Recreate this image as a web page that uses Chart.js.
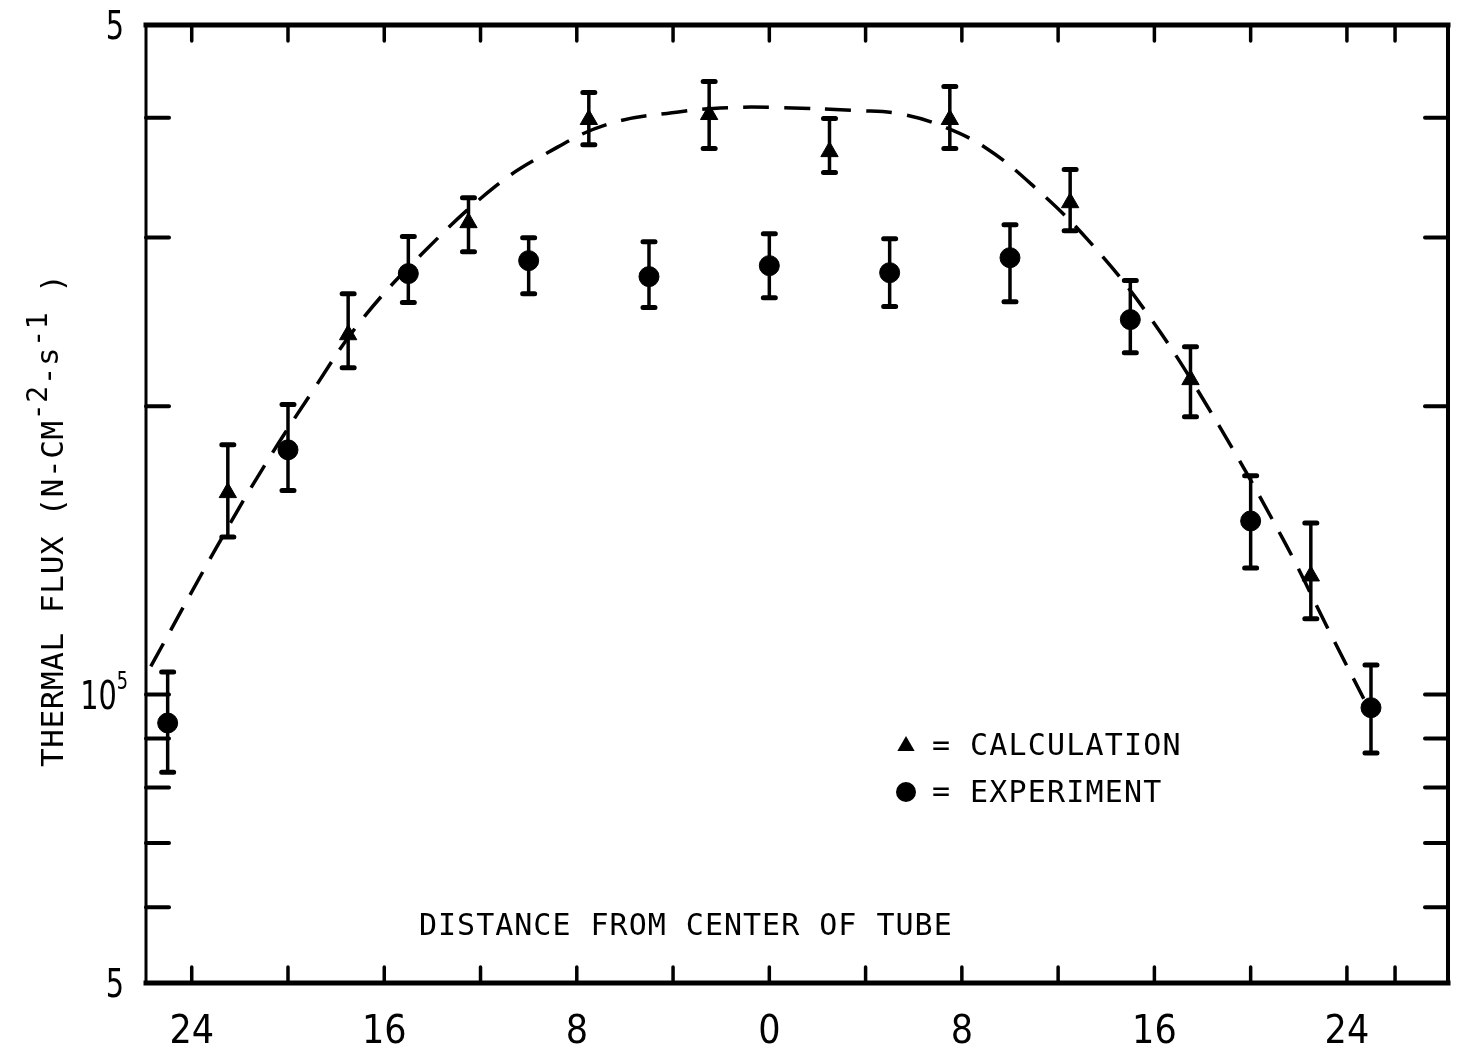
<!DOCTYPE html>
<html><head><meta charset="utf-8">
<script src="https://cdn.jsdelivr.net/npm/chart.js@4.4.1/dist/chart.umd.min.js"></script>
<style>html,body{margin:0;padding:0;background:#fff;}canvas{display:block;}</style>
</head><body>
<canvas id="c" width="1459" height="1056"></canvas>
<script>
// ---- data ----
const calcX  = [-22.5, -17.5, -12.5, -7.5, -2.5, 2.5, 7.5, 12.5, 17.5, 22.5];
const calcY  = [162500, 237500, 310900, 398400, 403200, 368800, 398400, 326200, 213200, 133000];
const calcHi = [182300, 262100, 330100, 425100, 436500, 399300, 431300, 353200, 230800, 151100];
const calcLo = [146100, 219400, 290000, 375000, 371500, 350700, 371500, 305000, 195000, 120000];

const exptX  = [-25, -20, -15, -10, -5, 0, 5, 10, 15, 20, 25];
const exptY  = [93400, 180100, 275100, 283800, 273100, 280400, 275700, 285800, 246300, 151800, 96900];
const exptHi = [105600, 200800, 300700, 299900, 297000, 302800, 299200, 309400, 270500, 169200, 107400];
const exptLo = [83000, 163300, 256600, 262100, 253500, 259600, 254100, 257100, 227500, 135600, 86900];

const fitX = [-25.7, -23, -21, -19, -17, -14.4, -11.4, -9.2, -6.7, -3.7, -1.6, 0.4, 3.7, 5.4, 7.2, 9, 11, 13.2, 15.6, 18.2, 21.3, 23.3, 24.7];
const fitY = [107000, 142000, 173000, 207000, 245000, 289000, 339000, 368000, 394000, 406000, 410000, 410000, 407000, 404000, 392000, 372000, 339000, 299000, 252000, 200000, 146000, 116000, 99000];

const xTickValues  = [-24, -20, -16, -12, -8, -4, 0, 4, 8, 12, 16, 20, 24, 26];
const xLabelValues = [-24, -16, -8, 0, 8, 16, 24];
const yTickValues  = [50000, 60000, 70000, 80000, 90000, 100000, 200000, 300000, 400000, 500000];
// y labels: [value, main text, superscript]
const yLabels = [[50000, '5', ''], [100000, '10', '5'], [500000, '5', '']];
const legendLabels = ['CALCULATION', 'EXPERIMENT'];
const xTitle = 'DISTANCE FROM CENTER OF TUBE';
const yTitleParts = [['THERMAL FLUX (N-CM', 0], ['-2', 1], ['-s', 0.3], ['-1', 1], [' )', 0]];

const MONO = '"DejaVu Sans Mono", "Liberation Mono", monospace';
const NARROW = '"Liberation Sans Narrow", "DejaVu Sans Condensed", "Liberation Sans", sans-serif';

const paper = {
  id: 'paper',
  beforeDraw(chart) {
    const ctx = chart.ctx;
    ctx.save(); ctx.fillStyle = '#fff'; ctx.fillRect(0, 0, chart.width, chart.height); ctx.restore();
  },
  beforeDatasetsDraw(chart) {
    const ctx = chart.ctx, xs = chart.scales.x, ys = chart.scales.y;
    ctx.save();
    ctx.strokeStyle = '#000';
    chart.data.datasets.forEach(ds => {
      if (!ds.errHi) return;
      ds.data.forEach((p, i) => {
        const px = xs.getPixelForValue(p.x);
        const yh = ys.getPixelForValue(ds.errHi[i]);
        const yl = ys.getPixelForValue(ds.errLo[i]);
        ctx.lineCap = 'butt'; ctx.lineWidth = 3.5;
        ctx.beginPath(); ctx.moveTo(px, yh); ctx.lineTo(px, yl); ctx.stroke();
        ctx.lineCap = 'round'; ctx.lineWidth = 5;
        ctx.beginPath(); ctx.moveTo(px - 6, yh); ctx.lineTo(px + 6, yh);
        ctx.moveTo(px - 6, yl); ctx.lineTo(px + 6, yl); ctx.stroke();
      });
    });
    ctx.restore();
  },
  afterDraw(chart) {
    const ctx = chart.ctx, ca = chart.chartArea, xs = chart.scales.x, ys = chart.scales.y;
    ctx.save();
    ctx.strokeStyle = '#000'; ctx.fillStyle = '#000';
    // frame
    ctx.lineCap = 'square';
    ctx.lineWidth = 5;
    ctx.beginPath(); ctx.moveTo(ca.left, ca.top); ctx.lineTo(ca.right, ca.top); ctx.stroke();
    ctx.beginPath(); ctx.moveTo(ca.left, ca.bottom); ctx.lineTo(ca.right, ca.bottom); ctx.stroke();
    ctx.lineWidth = 3;
    ctx.beginPath(); ctx.moveTo(ca.left, ca.top); ctx.lineTo(ca.left, ca.bottom); ctx.stroke();
    ctx.lineWidth = 4;
    ctx.beginPath(); ctx.moveTo(ca.right, ca.top); ctx.lineTo(ca.right, ca.bottom); ctx.stroke();
    // inward ticks
    ctx.lineCap = 'round';
    ctx.lineWidth = 3.5;
    xs.ticks.forEach(t => {
      const px = xs.getPixelForValue(t.value);
      ctx.beginPath(); ctx.moveTo(px, ca.top); ctx.lineTo(px, ca.top + 16); ctx.stroke();
      ctx.beginPath(); ctx.moveTo(px, ca.bottom); ctx.lineTo(px, ca.bottom - 16); ctx.stroke();
    });
    ctx.lineWidth = 4;
    ys.ticks.forEach(t => {
      if (t.value <= ys.min || t.value >= ys.max) return;
      const py = ys.getPixelForValue(t.value);
      ctx.beginPath(); ctx.moveTo(ca.left, py); ctx.lineTo(ca.left + 23, py); ctx.stroke();
      ctx.beginPath(); ctx.moveTo(ca.right, py); ctx.lineTo(ca.right - 23, py); ctx.stroke();
    });
    // y tick labels (with superscript), narrow typewriter digits
    ctx.textBaseline = 'alphabetic';
    yLabels.forEach(([v, main, sup]) => {
      const py = ys.getPixelForValue(v);
      ctx.save();
      ctx.font = '39px ' + NARROW;
      const rightEdge = sup ? ca.left - 18 : ca.left - 22;
      const sx = 0.82;
      ctx.translate(rightEdge, py + 14);
      ctx.scale(sx, 1);
      ctx.textAlign = 'right';
      let supW = 0;
      if (sup) {
        ctx.font = '24px ' + NARROW;
        supW = ctx.measureText(sup).width;
        ctx.fillText(sup, 0, -20);
      }
      ctx.font = '39px ' + NARROW;
      ctx.fillText(main, -supW, 0);
      ctx.restore();
    });
    // legend
    const lx = ca.left + 760, ly1 = ca.top + 721, ly2 = ca.top + 767;
    const r = 10;
    ctx.beginPath();
    ctx.moveTo(lx, ly1 - r);
    ctx.lineTo(lx + r * Math.sin(2 * Math.PI / 3), ly1 - r * Math.cos(2 * Math.PI / 3));
    ctx.lineTo(lx + r * Math.sin(4 * Math.PI / 3), ly1 - r * Math.cos(4 * Math.PI / 3));
    ctx.closePath(); ctx.fill();
    ctx.beginPath(); ctx.arc(lx, ly2, r, 0, 2 * Math.PI); ctx.fill();
    ctx.font = '30px ' + MONO;
    ctx.textBaseline = 'alphabetic'; ctx.textAlign = 'left';
    ctx.letterSpacing = '1.2px';
    ctx.fillText('=', lx + 26, ly1 + 9);
    ctx.fillText('=', lx + 26, ly2 + 9);
    ctx.fillText(legendLabels[0], lx + 64, ly1 + 9);
    ctx.fillText(legendLabels[1], lx + 64, ly2 + 10);
    // x title inside plot
    ctx.letterSpacing = '1px';
    ctx.fillText(xTitle, ca.left + 273, ca.bottom - 48);
    // y title rotated with superscripts
    ctx.save();
    ctx.translate(63, 767);
    ctx.rotate(-Math.PI / 2);
    ctx.letterSpacing = '0.6px';
    let off = 0;
    yTitleParts.forEach(([txt, lift]) => {
      const size = lift >= 1 ? 28 : 31;
      ctx.font = size + 'px ' + MONO;
      ctx.fillText(txt, off, -16 * lift);
      off += ctx.measureText(txt).width;
    });
    ctx.restore();
    ctx.restore();
  }
};

new Chart(document.getElementById('c'), {
  type: 'scatter',
  data: {
    datasets: [
      {
        label: 'FIT',
        data: fitX.map((x, i) => ({x: x, y: fitY[i]})),
        showLine: true, borderColor: '#000', borderWidth: 3.5, borderDash: [26, 15],
        pointRadius: 0, tension: 0.4, fill: false
      },
      {
        label: legendLabels[0],
        data: calcX.map((x, i) => ({x: x, y: calcY[i]})),
        errHi: calcHi, errLo: calcLo,
        pointStyle: 'triangle', pointRadius: 10, backgroundColor: '#000', borderColor: '#000', borderWidth: 1
      },
      {
        label: legendLabels[1],
        data: exptX.map((x, i) => ({x: x, y: exptY[i]})),
        errHi: exptHi, errLo: exptLo,
        pointStyle: 'circle', pointRadius: 10, backgroundColor: '#000', borderColor: '#000', borderWidth: 1
      }
    ]
  },
  options: {
    responsive: false, animation: false, devicePixelRatio: 1,
    layout: {padding: {top: 25, right: 5, left: 0, bottom: 0}},
    plugins: {legend: {display: false}, tooltip: {enabled: false}},
    scales: {
      x: {
        type: 'linear', min: -25.9, max: 28.2,
        afterBuildTicks: s => { s.ticks = xTickValues.map(v => ({value: v})); },
        afterFit: s => { s.height = 73; },
        grid: {display: false, drawTicks: false}, border: {display: false},
        ticks: {
          autoSkip: false, maxRotation: 0, minRotation: 0, padding: 26, color: '#000',
          font: {family: NARROW, size: 39},
          callback: v => xLabelValues.includes(v) ? String(Math.abs(v)) : ''
        }
      },
      y: {
        type: 'logarithmic', min: 50000, max: 500000,
        afterBuildTicks: s => { s.ticks = yTickValues.map(v => ({value: v})); },
        afterFit: s => { s.width = 146; },
        grid: {display: false, drawTicks: false}, border: {display: false},
        ticks: {display: false}
      }
    }
  },
  plugins: [paper]
});
</script>
</body></html>
